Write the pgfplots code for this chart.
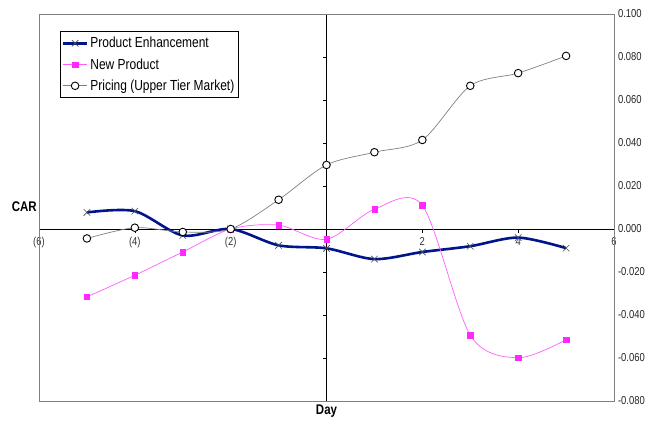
\documentclass[border=0pt]{standalone}
\usepackage{fontspec}
\setmainfont{Liberation Sans}[FakeStretch=0.82]
\usepackage{pgfplots}
\pgfplotsset{compat=1.18}
\definecolor{navyline}{RGB}{0,20,140}
\definecolor{mag}{RGB}{255,40,255}
\definecolor{bordergray}{RGB}{128,128,128}
\definecolor{pricegray}{RGB}{128,128,128}

\begin{document}
\begin{tikzpicture}
\begin{axis}[name=ax, at={(0,0)}, anchor=south west,
  scale only axis, width=575pt, height=387pt,
  xmin=-6, xmax=6, ymin=-0.08, ymax=0.1,
  axis lines=middle,
  axis line style={black, line width=0.8pt, -},
  every inner x axis line/.append style={-},
  every inner y axis line/.append style={-},
  hide obscured x ticks=false, hide obscured y ticks=false,
  xtick={-6,-4,-2,2,4,6},
  xticklabels={(6),(4),(2),2,4,6},
  ytick={-0.08,-0.06,-0.04,-0.02,0,0.02,0.04,0.06,0.08,0.1},
  yticklabels={-0.080,-0.060,-0.040,-0.020,0.000,0.020,0.040,0.060,0.080,0.100},
  tick align=outside,
  major tick length=4pt,
  tick style={black, line width=0.6pt},
  xticklabel style={font=\fontsize{11.5}{12}\selectfont, color=black!80, inner sep=1pt, yshift=-3pt},
  yticklabel style={font=\fontsize{11.5}{12}\selectfont, color=black!85, anchor=west, xshift=292pt},
  xlabel={\textbf{Day}},
  ylabel={\textbf{CAR}},
  xlabel style={at={(rel axis cs:0.5,-0.027)}, anchor=center, font=\fontsize{14}{16}\selectfont},
  ylabel style={at={(rel axis cs:-0.0255,0.502)}, anchor=center, rotate=0, font=\fontsize{14}{16}\selectfont},
  clip=false,
  legend style={at={(rel axis cs:0.0365,0.955)}, anchor=north west, draw=black, line width=0.6pt,
    font=\fontsize{14.6}{16}\selectfont, inner xsep=1.5pt, inner ysep=3.5pt, row sep=5.2pt,
    cells={anchor=west}},
  legend image code/.code={\draw[mark repeat=2,mark phase=2] plot coordinates {(0pt,0pt)(12pt,0pt)(24pt,0pt)};},
  legend cell align=left,
]
\draw[bordergray, line width=0.8pt] (rel axis cs:0,0) rectangle (rel axis cs:1,1);

\addplot[navyline, line width=2.6pt, smooth, tension=0.5, mark=x, mark size=4.6pt,
  mark options={draw=black!70, line width=0.6pt, solid}]
  coordinates {(-5,0.0077) (-4,0.0083) (-3,-0.0030) (-2,0.0000) (-1,-0.0076) (0,-0.0090)
               (1,-0.0140) (2,-0.0107) (3,-0.0080) (4,-0.0040) (5,-0.0089)};
\addlegendentry{Product Enhancement}

\addplot[mag!75, line width=0.7pt, smooth, tension=0.5, mark=square*, mark size=2.7pt,
  mark options={fill=mag, draw=mag, line width=0.3pt}]
  coordinates {(-5,-0.0316) (-4,-0.0215) (-3,-0.0107) (-2,0.0000) (-1,0.0018) (0,-0.0048)
               (1,0.0092) (2,0.0110) (3,-0.0494) (4,-0.0599) (5,-0.0515)};
\addlegendentry{New Product}

\addplot[pricegray, line width=0.7pt, smooth, tension=0.5, mark=*, mark size=3.8pt,
  mark options={fill=white, draw=black, line width=0.9pt}]
  coordinates {(-5,-0.0044) (-4,0.0006) (-3,-0.0014) (-2,0.0000) (-1,0.0136) (0,0.0298)
               (1,0.0357) (2,0.0414) (3,0.0666) (4,0.0725) (5,0.0805)};
\addlegendentry{Pricing (Upper Tier Market)}
\end{axis}
\path (ax.south west) ++(-39pt,-20pt) rectangle ++(659pt,421pt);
\end{tikzpicture}
\end{document}
